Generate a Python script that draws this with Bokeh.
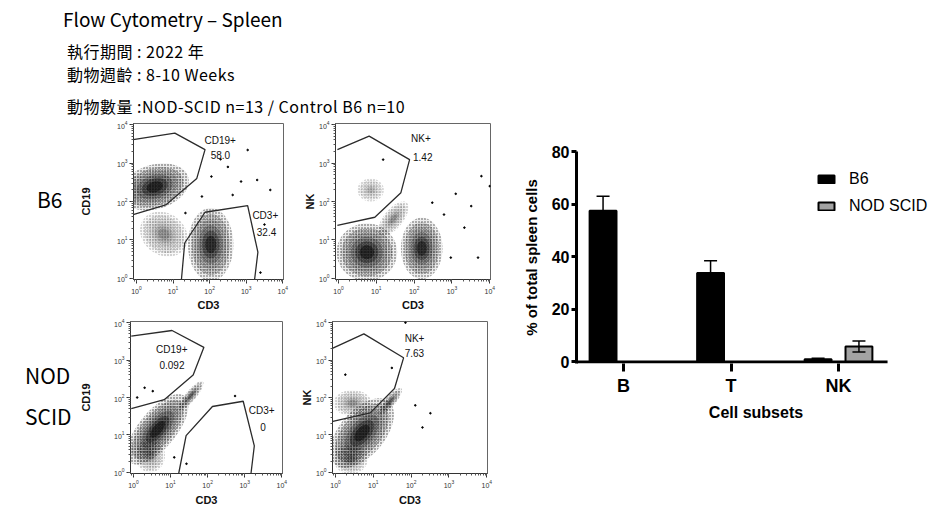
import numpy as np
from bokeh.plotting import figure
from bokeh.models import (Range1d, ColumnDataSource, Whisker, Legend,
                          LegendItem, Div, TeeHead, FixedTicker)
from bokeh.layouts import row, column
from bokeh.core.properties import value
from bokeh.embed import file_html
from bokeh.resources import INLINE

# ---------------- bar chart data ----------------
subsets = ["B", "T", "NK"]
b6_mean = [57.5, 33.8, 1.0]
b6_sd = [5.5, 4.7, 0.4]
nod_mean = [0.0, 0.0, 5.9]
nod_sd = [0.0, 0.0, 2.1]
group_names = ["B6", "NOD SCID"]
y_ticks = [0, 20, 40, 60, 80]

# ---------------- header texts ----------------
title_text = "Flow Cytometry – Spleen"
info_lines = ["執行期間 : 2022 年", "動物週齡 : 8-10 Weeks", "動物數量 :NOD-SCID n=13 / Control B6 n=10"]
row_labels = ["B6", "NOD", "SCID"]

# ---------------- flow plots (values in log10 decades) ----------------
# plot 1: B6, CD19 vs CD3
p1_gate_a_x = [-0.09, 1.05, 1.875, 1.65, 0.80, -0.09]
p1_gate_a_y = [3.61, 3.78, 3.35, 2.60, 1.91, 1.66]
p1_gate_b_x = [1.23, 1.32, 1.875, 3.04, 3.32, 3.23]
p1_gate_b_y = [-0.03, 0.92, 1.72, 1.89, 0.68, -0.03]
p1_label_text = ["CD19+", "58.0", "CD3+", "32.4"]
p1_cloud_cx = [0.50, 0.75, 2.03]
p1_cloud_cy = [2.38, 1.15, 0.88]
p1_cloud_rx = [0.95, 0.55, 0.62]
p1_cloud_ry = [0.58, 0.68, 0.95]
p1_cloud_ang = [15, 60, 0]
p1_cloud_peak = [0.97, 0.30, 0.88]
p1_dots_x = [2.63, 2.86, 2.05, 3.30, 3.66, 3.04, 2.50, 1.79, 1.34, 3.39, 2.30, 3.50]
p1_dots_y = [2.17, 2.52, 2.65, 2.56, 2.30, 3.34, 2.90, 2.13, 1.70, 0.15, 3.10, 1.40]

# plot 2: B6, NK vs CD3
p2_gate_a_x = [-0.03, 0.81, 1.88, 1.65, 0.96, -0.03]
p2_gate_a_y = [3.35, 3.70, 3.09, 2.23, 1.59, 1.38]
p2_label_text = ["NK+", "1.42"]
p2_cloud_cx = [0.75, 2.20, 1.45, 0.85]
p2_cloud_cy = [0.68, 0.78, 1.55, 2.30]
p2_cloud_rx = [0.80, 0.55, 0.55, 0.35]
p2_cloud_ry = [0.75, 0.80, 0.25, 0.30]
p2_cloud_ang = [0, 0, 50, 0]
p2_cloud_peak = [0.95, 0.88, 0.30, 0.18]
p2_dots_x = [2.79, 3.33, 3.78, 4.00, 3.51, 2.48, 2.97, 1.18, 3.69, 3.10]
p2_dots_y = [1.66, 1.32, 2.66, 2.40, 1.88, 1.97, 0.54, 3.09, 0.54, 2.20]

# plot 3: NOD SCID, CD19 vs CD3
p3_gate_a_x = [-0.06, 1.04, 1.90, 1.61, 0.83, -0.06]
p3_gate_a_y = [3.64, 3.79, 3.34, 2.60, 1.94, 1.70]
p3_gate_b_x = [1.22, 1.42, 2.13, 2.96, 3.26, 3.17]
p3_gate_b_y = [-0.03, 0.98, 1.76, 1.90, 0.71, -0.03]
p3_label_text = ["CD19+", "0.092", "CD3+", "0"]
p3_cloud_cx = [0.65, 1.55, 0.45]
p3_cloud_cy = [1.15, 2.05, 0.45]
p3_cloud_rx = [1.15, 0.50, 0.40]
p3_cloud_ry = [0.50, 0.14, 0.45]
p3_cloud_ang = [50, 50, 0]
p3_cloud_peak = [0.97, 0.55, 0.30]
p3_dots_x = [0.30, 0.52, 2.74, 1.43, 0.10, 1.10]
p3_dots_y = [2.26, 2.17, 2.04, 0.23, 2.00, 0.40]

# plot 4: NOD SCID, NK vs CD3
p4_gate_a_x = [-0.07, 0.75, 1.80, 1.56, 0.92, -0.07]
p4_gate_a_y = [3.32, 3.70, 3.06, 2.24, 1.59, 1.36]
p4_label_text = ["NK+", "7.63"]
p4_cloud_cx = [0.70, 0.45, 0.40, 1.45]
p4_cloud_cy = [1.05, 1.85, 0.35, 1.90]
p4_cloud_rx = [1.10, 0.50, 0.45, 0.45]
p4_cloud_ry = [0.60, 0.35, 0.40, 0.14]
p4_cloud_ang = [50, 0, 0, 50]
p4_cloud_peak = [0.97, 0.28, 0.30, 0.55]
p4_dots_x = [2.11, 2.51, 1.49, 1.85, 0.26, 2.30]
p4_dots_y = [1.79, 1.58, 2.79, 4.00, 2.61, 1.20]

# label positions (log10 decades) for the gate texts
p1_label_x = [1.86, 2.03, 3.17, 3.29]
p1_label_y = [3.59, 3.22, 1.64, 1.20]
p2_label_x = [1.92, 1.97]
p2_label_y = [3.65, 3.15]
p3_label_x = [0.61, 0.70, 3.11, 3.42]
p3_label_y = [3.29, 2.86, 1.66, 1.22]
p4_label_x = [1.83, 1.83]
p4_label_y = [3.58, 3.18]

ARIAL = "Liberation Sans"
LAYER_SCALE = [1.0, 0.84, 0.68, 0.53, 0.38, 0.24]
LAYER_WEIGHT = [0.08, 0.10, 0.15, 0.24, 0.36, 0.50]


def ellipse(cx, cy, rx, ry, ang):
    t = np.linspace(0, 2 * np.pi, 72)
    a = np.deg2rad(ang)
    ex = cx + rx * np.cos(t) * np.cos(a) - ry * np.sin(t) * np.sin(a)
    ey = cy + rx * np.cos(t) * np.sin(a) + ry * np.sin(t) * np.cos(a)
    return list(10 ** ex), list(10 ** ey)


def flow_fig(L, R, T, B, fw, fh, ylabel, ystand, xstand, gates, clouds, dots, labels):
    p = figure(width=L + fw + R, height=T + fh + B, x_axis_type="log", y_axis_type="log",
               x_range=Range1d(10 ** -0.08, 10 ** 4.02), y_range=Range1d(10 ** -0.03, 10 ** 4.03),
               output_backend="svg", toolbar_location=None,
               min_border_left=L, min_border_right=R, min_border_top=T, min_border_bottom=B)
    p.xgrid.visible = False
    p.ygrid.visible = False
    p.outline_line_color = "#666666"
    p.outline_line_width = 1
    for ax in (p.xaxis[0], p.yaxis[0]):
        ax.major_tick_out = 4
        ax.major_tick_in = 0
        ax.minor_tick_out = 2
        ax.minor_tick_in = 0
        ax.axis_line_color = "#333333"
        ax.major_tick_line_color = "#333333"
        ax.minor_tick_line_color = "#555555"
        ax.major_label_text_font_size = "7px"
        ax.major_label_text_color = "#333333"
        ax.major_label_standoff = 2
        ax.axis_label_text_font = ARIAL
        ax.axis_label_text_font_style = "bold"
        ax.axis_label_text_font_size = "11px"
        ax.axis_label_text_color = "#111111"
    p.xaxis.axis_label = "CD3"
    p.yaxis.axis_label = ylabel
    p.yaxis.axis_label_standoff = ystand
    p.xaxis.axis_label_standoff = xstand

    cx, cy, rx, ry, ang, peak = clouds
    for k, (s, wgt) in enumerate(zip(LAYER_SCALE, LAYER_WEIGHT)):
        xs, ys, al = [], [], []
        for i in range(len(cx)):
            ex, ey = ellipse(cx[i], cy[i], rx[i] * s, ry[i] * s, ang[i])
            xs.append(ex)
            ys.append(ey)
            al.append(peak[i] * wgt)
        csrc = ColumnDataSource(dict(xs=xs, ys=ys, a=al, h=[min(1.0, 0.25 + 0.5 * pk) for pk in peak]))
        p.patches("xs", "ys", source=csrc, fill_color="black", fill_alpha="a", line_alpha=0)
        if k < 2:
            p.patches("xs", "ys", source=csrc, fill_alpha=0, line_alpha=0,
                      hatch_pattern="dot", hatch_scale=3 if k == 0 else 2.5,
                      hatch_color="black", hatch_alpha="h")

    dx, dy = dots
    p.scatter([10 ** v for v in dx], [10 ** v for v in dy], size=1.6, color="black")

    for gx, gy in gates:
        p.line([10 ** v for v in gx], [10 ** v for v in gy], line_color="#2b2b2b", line_width=1.3)

    lt, lx, ly = labels
    p.text([10 ** v for v in lx], [10 ** v for v in ly], text=lt, text_font=value(ARIAL),
           text_font_size="10px", text_align="left", text_baseline="middle", text_color="#111111")
    return p


f1 = flow_fig(54, 14, 5, 36, 153, 156, "CD19", 22, 2,
              [(p1_gate_a_x, p1_gate_a_y), (p1_gate_b_x, p1_gate_b_y)],
              (p1_cloud_cx, p1_cloud_cy, p1_cloud_rx, p1_cloud_ry, p1_cloud_ang, p1_cloud_peak),
              (p1_dots_x, p1_dots_y), (p1_label_text, p1_label_x, p1_label_y))
f2 = flow_fig(38, 10, 5, 36, 155, 156, "NK", 0, 2,
              [(p2_gate_a_x, p2_gate_a_y)],
              (p2_cloud_cx, p2_cloud_cy, p2_cloud_rx, p2_cloud_ry, p2_cloud_ang, p2_cloud_peak),
              (p2_dots_x, p2_dots_y), (p2_label_text, p2_label_x, p2_label_y))
f3 = flow_fig(51, 10, 6, 31, 155, 156, "CD19", 19, 3,
              [(p3_gate_a_x, p3_gate_a_y), (p3_gate_b_x, p3_gate_b_y)],
              (p3_cloud_cx, p3_cloud_cy, p3_cloud_rx, p3_cloud_ry, p3_cloud_ang, p3_cloud_peak),
              (p3_dots_x, p3_dots_y), (p3_label_text, p3_label_x, p3_label_y))
f4 = flow_fig(40, 13, 6, 31, 155, 156, "NK", 0, 3,
              [(p4_gate_a_x, p4_gate_a_y)],
              (p4_cloud_cx, p4_cloud_cy, p4_cloud_rx, p4_cloud_ry, p4_cloud_ang, p4_cloud_peak),
              (p4_dots_x, p4_dots_y), (p4_label_text, p4_label_x, p4_label_y))

# ---------------- bar chart ----------------
x_idx = list(range(len(subsets)))
bar = figure(x_range=Range1d(-0.437, 2.902), y_range=Range1d(-0.6, 80), width=439, height=500,
             min_border_left=76, min_border_right=4, min_border_top=143, min_border_bottom=145,
             output_backend="svg", toolbar_location=None)
bar.outline_line_color = None
bar.xgrid.visible = False
bar.ygrid.visible = False

src = ColumnDataSource(dict(
    xi=x_idx, b6=b6_mean, nod=nod_mean,
    xb6=[i - 0.19 for i in x_idx], xnod=[i + 0.19 for i in x_idx],
    b6_lo=[m - s for m, s in zip(b6_mean, b6_sd)], b6_hi=[m + s for m, s in zip(b6_mean, b6_sd)],
    nod_lo=[m - s for m, s in zip(nod_mean, nod_sd)], nod_hi=[m + s for m, s in zip(nod_mean, nod_sd)],
))
r_b6 = bar.vbar(x="xb6", top="b6", bottom=0, width=0.25, source=src,
                fill_color="black", line_color="black", line_width=2)
r_nod = bar.vbar(x="xnod", top="nod", bottom=0, width=0.25, source=src,
                 fill_color="#a3a3a3", line_color="black", line_width=2)
for base, lo, hi in (("xb6", "b6_lo", "b6_hi"), ("xnod", "nod_lo", "nod_hi")):
    w = Whisker(base=base, lower=lo, upper=hi, source=src,
                line_color="black", line_width=1.5, level="annotation",
                upper_head=TeeHead(size=13, line_width=1.5, line_color="black"),
                lower_head=TeeHead(size=13, line_width=1.5, line_color="black"))
    bar.add_layout(w)

# x axis line spanning the three categories
bar.segment(x0=[x_idx[0] - 0.437], y0=[0], x1=[x_idx[-1] + 0.456], y1=[0],
            line_color="black", line_width=3)

yax = bar.yaxis[0]
yax.ticker = FixedTicker(ticks=y_ticks)
xax = bar.xaxis[0]
xax.ticker = FixedTicker(ticks=x_idx)
xax.major_label_overrides = {i: s for i, s in zip(x_idx, subsets)}
xax.axis_line_color = None
for ax in (xax, yax):
    ax.axis_line_width = 3
    ax.major_tick_line_width = 3
    ax.major_tick_in = 0
    ax.minor_tick_out = 0
    ax.minor_tick_in = 0
    ax.major_label_text_font = ARIAL
    ax.major_label_text_font_style = "bold"
    ax.axis_label_text_font = ARIAL
    ax.axis_label_text_font_style = "bold"
    ax.major_label_text_color = "black"
    ax.axis_label_text_color = "black"
yax.major_tick_out = 5
yax.major_label_standoff = 2
yax.major_label_text_font_size = "16px"
yax.axis_label = "% of total spleen cells"
yax.axis_label_text_font_size = "15px"
yax.axis_label_standoff = 9
xax.major_tick_out = 8
xax.major_label_standoff = 4
xax.major_label_text_font_size = "18px"
xax.axis_label = "Cell subsets"
xax.axis_label_text_font_size = "16px"
xax.axis_label_standoff = 5

legend = Legend(items=[LegendItem(label=group_names[0], renderers=[r_b6]),
                       LegendItem(label=group_names[1], renderers=[r_nod])],
                location=(240, 146), orientation="vertical",
                glyph_width=20, glyph_height=10, label_height=23, spacing=4,
                label_standoff=13, padding=0, margin=0,
                label_text_font=ARIAL, label_text_font_size="16px", label_text_color="black",
                border_line_color=None, background_fill_alpha=0)
bar.add_layout(legend)

# ---------------- text blocks ----------------
FONT = "'Noto Sans CJK TC','Noto Sans',sans-serif"
LINE = "position:absolute;left:59px;font-size:16px;line-height:1;white-space:nowrap;letter-spacing:0.5px;"
header_html = (
    f'<div style="position:relative;width:492px;height:110px;font-family:{FONT};color:#000;">'
    f'<div style="position:absolute;left:55px;top:0px;font-size:19px;line-height:1.2;white-space:nowrap;">{title_text}</div>'
    f'<div style="{LINE}top:35px;">{info_lines[0]}</div>'
    f'<div style="{LINE}top:58px;">{info_lines[1]}</div>'
    f'<div style="{LINE}top:90px;">{info_lines[2]}</div>'
    '</div>'
)
header = Div(text=header_html, width=492, height=110, margin=0)

lab1 = Div(text=(f'<div style="position:relative;width:68px;height:197px;font-family:{FONT};">'
                 f'<div style="position:absolute;left:29px;top:71px;font-size:21px;line-height:1;">{row_labels[0]}</div></div>'),
           width=68, height=197, margin=0)
lab2 = Div(text=(f'<div style="position:relative;width:68px;height:193px;font-family:{FONT};">'
                 f'<div style="position:absolute;left:17px;top:50px;font-size:21px;line-height:1;">{row_labels[1]}</div>'
                 f'<div style="position:absolute;left:17px;top:91px;font-size:21px;line-height:1;">{row_labels[2]}</div></div>'),
           width=68, height=193, margin=0)

left = column(header, row(lab1, f1, f2), row(lab2, f3, f4))
page = row(left, bar, margin=(8, 0, 0, 8))

open("out.html", "w").write(file_html(page, INLINE))
